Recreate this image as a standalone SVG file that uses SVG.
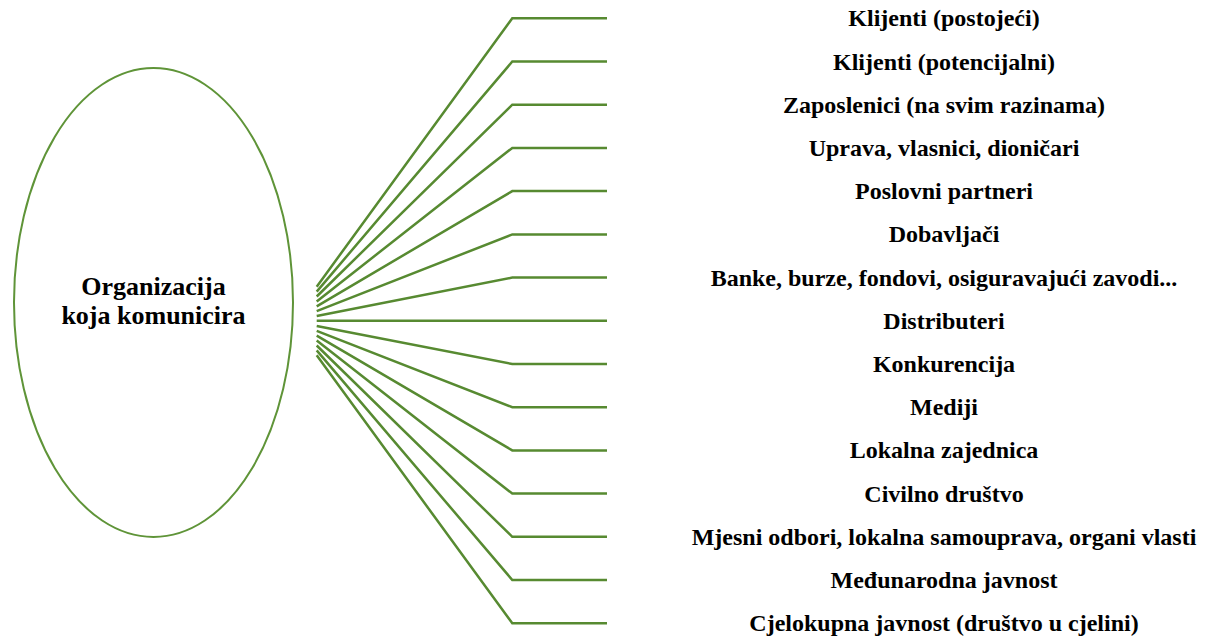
<svg xmlns="http://www.w3.org/2000/svg" width="1205" height="637" viewBox="0 0 1205 637">
<style>
.conn{fill:none;stroke:#578A31;stroke-width:2.5;stroke-linejoin:miter}
.ell{fill:#fff;stroke:#5F9438;stroke-width:2}
.t{font-family:'Liberation Serif','Times New Roman',serif;font-weight:700;font-size:24px;fill:#000;text-anchor:middle}
.c{font-size:26px}
</style>
<rect width="1205" height="637" fill="#fff"/>
<g id="org">
<ellipse class="ell" cx="153.5" cy="302.5" rx="139.5" ry="234.5"/>
<text class="t c" x="153.5" y="295">Organizacija</text>
<text class="t c" x="153.5" y="324">koja komunicira</text>
</g>
<g id="connectors">
<polyline class="conn" points="316.7,286.7 512.3,18.3 607,18.3"/>
<polyline class="conn" points="316.7,291.6 512.3,61.5 607,61.5"/>
<polyline class="conn" points="316.7,296.5 512.3,104.7 607,104.7"/>
<polyline class="conn" points="316.7,301.4 512.3,147.9 607,147.9"/>
<polyline class="conn" points="316.7,306.3 512.3,191.1 607,191.1"/>
<polyline class="conn" points="316.7,311.2 512.3,234.4 607,234.4"/>
<polyline class="conn" points="316.7,316.1 512.3,277.6 607,277.6"/>
<polyline class="conn" points="316.7,320.8 512.3,320.8 607,320.8"/>
<polyline class="conn" points="316.7,325.9 512.3,364.0 607,364.0"/>
<polyline class="conn" points="316.7,330.8 512.3,407.2 607,407.2"/>
<polyline class="conn" points="316.7,335.7 512.3,450.4 607,450.4"/>
<polyline class="conn" points="316.7,340.6 512.3,493.6 607,493.6"/>
<polyline class="conn" points="316.7,345.5 512.3,536.8 607,536.8"/>
<polyline class="conn" points="316.7,350.4 512.3,580.0 607,580.0"/>
<polyline class="conn" points="316.7,355.3 512.3,623.3 607,623.3"/>
</g>
<g id="n1"><text class="t" x="944" y="26.3">Klijenti (postojeći)</text></g>
<g id="n2"><text class="t" x="944" y="69.5">Klijenti (potencijalni)</text></g>
<g id="n3"><text class="t" x="944" y="112.7">Zaposlenici (na svim razinama)</text></g>
<g id="n4"><text class="t" x="944" y="155.9">Uprava, vlasnici, dioničari</text></g>
<g id="n5"><text class="t" x="944" y="199.1">Poslovni partneri</text></g>
<g id="n6"><text class="t" x="944" y="242.4">Dobavljači</text></g>
<g id="n7"><text class="t" x="944" y="285.6">Banke, burze, fondovi, osiguravajući zavodi...</text></g>
<g id="n8"><text class="t" x="944" y="328.8">Distributeri</text></g>
<g id="n9"><text class="t" x="944" y="372.0">Konkurencija</text></g>
<g id="n10"><text class="t" x="944" y="415.2">Mediji</text></g>
<g id="n11"><text class="t" x="944" y="458.4">Lokalna zajednica</text></g>
<g id="n12"><text class="t" x="944" y="501.6">Civilno društvo</text></g>
<g id="n13"><text class="t" x="944" y="544.8">Mjesni odbori, lokalna samouprava, organi vlasti</text></g>
<g id="n14"><text class="t" x="944" y="588.0">Međunarodna javnost</text></g>
<g id="n15"><text class="t" x="944" y="631.3">Cjelokupna javnost (društvo u cjelini)</text></g>
</svg>
